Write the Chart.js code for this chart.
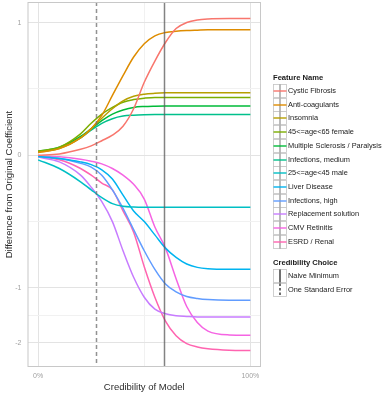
<!DOCTYPE html>
<html>
<head>
<meta charset="utf-8">
<script src="https://cdn.jsdelivr.net/npm/chart.js@4.4.1/dist/chart.umd.min.js"></script>
<style>
  body { margin: 0; background: #fff; font-family: "Liberation Sans", Arial, sans-serif; }
  #wrap { position: relative; width: 387px; height: 405px; }
  #legend { position: absolute; left: 0; top: 0; width: 387px; height: 405px; pointer-events: none; }
  .ltitle { position: absolute; left: 273px; font-size: 7.6px; font-weight: bold; color: #1a1a1a; height: 14px; line-height: 14px; white-space: nowrap; }
  .litem { position: absolute; left: 288px; font-size: 7.4px; color: #1a1a1a; height: 14px; line-height: 14px; white-space: nowrap; }
  .key { position: absolute; left: 273px; }
</style>
</head>
<body>
<div id="wrap">
  <canvas id="chart" width="387" height="405"></canvas>
  <div id="legend"></div>
</div>
<script>
// credibility of model (x) and difference from original coefficient per feature
var credibility = [0, 0.1, 0.2, 0.25, 0.3, 0.35, 0.4, 0.45, 0.5, 0.55, 0.6, 0.65, 0.7, 0.75, 0.8, 0.9, 1];

var cysticFibrosis = [0, 0.0001, 0.002, 0.005, 0.012, 0.023, 0.048, 0.123, 0.3025, 0.504, 0.7225, 0.912, 1.0, 1.04, 1.055, 1.061, 1.061];
var antiCoagulants = [0.0004, 0.0025, 0.017, 0.04, 0.09, 0.203, 0.36, 0.548, 0.706, 0.81, 0.856, 0.874, 0.884, 0.889, 0.893, 0.893, 0.893];
var insomnia = [0.0006, 0.0025, 0.017, 0.04, 0.078, 0.123, 0.168, 0.198, 0.212, 0.218, 0.221, 0.222, 0.222, 0.222, 0.222, 0.222, 0.222];
var female4565 = [0.0009, 0.0036, 0.026, 0.058, 0.096, 0.13, 0.16, 0.176, 0.185, 0.19, 0.19, 0.19, 0.19, 0.19, 0.19, 0.19, 0.19];
var msParalysis = [0.0009, 0.0036, 0.02, 0.04, 0.068, 0.096, 0.116, 0.13, 0.135, 0.137, 0.138, 0.138, 0.138, 0.138, 0.138, 0.138, 0.138];
var infectionsMedium = [0.0006, 0.003, 0.017, 0.036, 0.058, 0.076, 0.087, 0.091, 0.093, 0.094, 0.094, 0.094, 0.094, 0.094, 0.094, 0.094, 0.094];
var male2545 = [-0.0012, -0.01, -0.04, -0.068, -0.102, -0.133, -0.148, -0.152, -0.153, -0.153, -0.153, -0.153, -0.153, -0.153, -0.153, -0.153, -0.153];
var liverDisease = [-0.0001, -0.0006, -0.0025, -0.005, -0.012, -0.032, -0.09, -0.176, -0.25, -0.36, -0.49, -0.593, -0.672, -0.714, -0.731, -0.738, -0.738];
var infectionsHigh = [-0.0001, -0.0006, -0.0036, -0.008, -0.0225, -0.068, -0.16, -0.314, -0.518, -0.74, -0.941, -1.061, -1.134, -1.166, -1.184, -1.195, -1.195];
var replacementSolution = [-0.0002, -0.0025, -0.0225, -0.058, -0.1225, -0.25, -0.518, -0.846, -1.145, -1.346, -1.428, -1.464, -1.476, -1.484, -1.484, -1.484, -1.484];
var cmvRetinitis = [-0.00003, -0.00014, -0.0009, -0.002, -0.0042, -0.01, -0.0225, -0.048, -0.109, -0.292, -0.49, -0.865, -1.3, -1.588, -1.756, -1.833, -1.839];
var esrdRenal = [-0.0001, -0.0012, -0.01, -0.0225, -0.044, -0.068, -0.176, -0.336, -0.706, -1.145, -1.563, -1.85, -2.016, -2.088, -2.126, -2.158, -2.164];

var featureNames = ['Cystic Fibrosis', 'Anti-coagulants', 'Insomnia', '45<=age<65 female',
  'Multiple Sclerosis / Paralysis', 'Infections, medium', '25<=age<45 male', 'Liver Disease',
  'Infections, high', 'Replacement solution', 'CMV Retinitis', 'ESRD / Renal'];
var featureValues = [cysticFibrosis, antiCoagulants, insomnia, female4565, msParalysis, infectionsMedium,
  male2545, liverDisease, infectionsHigh, replacementSolution, cmvRetinitis, esrdRenal];
var featureColors = ['#F8766D', '#DE8C00', '#B79F00', '#7CAE00', '#00BA38', '#00C08B',
  '#00BFC4', '#00B4F0', '#619CFF', '#C77CFF', '#F564E3', '#FF64B0'];

// chosen credibility levels (vertical lines)
var choiceNames = ['Naive Minimum', 'One Standard Error'];
var choiceValues = [0.594, 0.271];

var yTicks = [-2, -1, 0, 1];
var yMinor = [-1.457, -0.25, 0.25];
var xTicks = [0, 1];
var xMinor = [0.5];

function ssqrt(v) { return v < 0 ? -Math.sqrt(-v) : Math.sqrt(v); }

// signed square-root axis, like scales::sqrt on both sides of zero
class SignedSqrtScale extends Chart.LinearScale {
  getPixelForValue(value) {
    var t0 = ssqrt(this.min), t1 = ssqrt(this.max);
    return this.getPixelForDecimal((ssqrt(value) - t0) / (t1 - t0));
  }
  getValueForPixel(pixel) {
    var t0 = ssqrt(this.min), t1 = ssqrt(this.max);
    var t = t0 + this.getDecimalForPixel(pixel) * (t1 - t0);
    return t < 0 ? -t * t : t * t;
  }
}
SignedSqrtScale.id = 'signedsqrt';
SignedSqrtScale.defaults = Chart.LinearScale.defaults;
Chart.register(SignedSqrtScale);

var datasets = featureNames.map(function (name, i) {
  return {
    label: name,
    data: credibility.map(function (x, j) { return { x: x, y: featureValues[i][j] }; }),
    borderColor: featureColors[i],
    backgroundColor: featureColors[i],
    borderWidth: 1.5,
    pointRadius: 0,
    fill: false,
    cubicInterpolationMode: 'monotone'
  };
});

var panelPlugin = {
  id: 'panel',
  afterDatasetsDraw: function (chart) {
    var ctx = chart.ctx, a = chart.chartArea, xs = chart.scales.x;
    ctx.save();
    choiceValues.forEach(function (v, i) {
      var px = Math.round(xs.getPixelForValue(v)) + 0.5;
      ctx.beginPath();
      ctx.strokeStyle = i === 0 ? 'rgba(90,90,90,0.75)' : 'rgba(110,110,110,0.75)';
      ctx.lineWidth = 1.5;
      ctx.setLineDash(i === 0 ? [] : [4, 3]);
      ctx.moveTo(px, a.top);
      ctx.lineTo(px, a.bottom);
      ctx.stroke();
    });
    ctx.setLineDash([]);
    ctx.strokeStyle = '#c8c8c8';
    ctx.lineWidth = 1;
    ctx.strokeRect(a.left + 0.5, a.top + 0.5, a.right - a.left - 1, a.bottom - a.top - 1);
    ctx.restore();
  }
};

function gridColor(minor) {
  return function (c) { return minor.indexOf(c.tick.value) >= 0 ? '#f1f1f1' : '#e3e3e3'; };
}

function noPad(s) { s.paddingTop = 0; s.paddingBottom = 0; s.paddingLeft = 0; s.paddingRight = 0; }

new Chart(document.getElementById('chart'), {
  type: 'line',
  data: { datasets: datasets },
  options: {
    responsive: false,
    animation: false,
    layout: { padding: { left: 0, top: 2, right: 126, bottom: 0 } },
    plugins: { legend: { display: false }, tooltip: { enabled: false } },
    scales: {
      x: {
        type: 'linear',
        min: -0.05,
        max: 1.05,
        afterBuildTicks: function (s) {
          s.ticks = xTicks.concat(xMinor).sort(function (a, b) { return a - b; })
            .map(function (v) { return { value: v }; });
        },
        afterFit: function (s) { s.height = 38; noPad(s); },
        ticks: {
          callback: function (v) { return xTicks.indexOf(v) >= 0 ? Math.round(v * 100) + '%' : ''; },
          color: '#a0a0a0',
          font: { family: 'Liberation Sans', size: 7 },
          padding: 5,
          maxRotation: 0
        },
        grid: { color: gridColor(xMinor), drawTicks: false },
        border: { display: false },
        title: {
          display: true,
          text: 'Credibility of Model',
          color: '#2b2b2b',
          font: { family: 'Liberation Sans', size: 9.5 },
          padding: { top: 0, bottom: 12 }
        }
      },
      y: {
        type: 'signedsqrt',
        min: -2.547,
        max: 1.334,
        afterBuildTicks: function (s) {
          s.ticks = yTicks.concat(yMinor).sort(function (a, b) { return a - b; })
            .map(function (v) { return { value: v }; });
        },
        afterFit: function (s) { s.width = 27.5; noPad(s); },
        ticks: {
          callback: function (v) { return yTicks.indexOf(v) >= 0 ? String(v) : ''; },
          color: '#a0a0a0',
          font: { family: 'Liberation Sans', size: 7 },
          padding: 6
        },
        grid: { color: gridColor(yMinor), drawTicks: false },
        border: { display: false },
        title: {
          display: true,
          text: 'Difference from Original Coefficient',
          color: '#2b2b2b',
          font: { family: 'Liberation Sans', size: 9.5 },
          padding: { top: 4, bottom: 0 }
        }
      }
    }
  },
  plugins: [panelPlugin]
});

// legend (two guides, like the original)
var legend = document.getElementById('legend');
function add(html) { legend.insertAdjacentHTML('beforeend', html); }
function esc(s) { return s.replace(/&/g, '&amp;').replace(/</g, '&lt;'); }
function keySvg(top, inner) {
  return '<svg class="key" style="top:' + top + 'px" width="14" height="14" viewBox="0 0 14 14">' +
    '<rect x="0.5" y="0.5" width="13" height="13" fill="#fff" stroke="#c4c4c4" stroke-width="0.8"/>' +
    inner + '</svg>';
}

add('<div class="ltitle" style="top:70.5px">Feature Name</div>');
featureNames.forEach(function (name, i) {
  var top = 84 + i * 13.7;
  add(keySvg(top,
    '<line x1="7" y1="0.5" x2="7" y2="13.5" stroke="rgba(90,90,90,0.75)" stroke-width="1.1"/>' +
    '<line x1="0.5" y1="7" x2="13.5" y2="7" stroke="' + featureColors[i] + '" stroke-width="1.4"/>'));
  add('<div class="litem" style="top:' + top + 'px">' + esc(name) + '</div>');
});

add('<div class="ltitle" style="top:256px">Credibility Choice</div>');
choiceNames.forEach(function (name, i) {
  var top = 269 + i * 13.7;
  var dash = i === 0 ? '' : ' stroke-dasharray="2.5,2"';
  add(keySvg(top, '<line x1="7" y1="0.5" x2="7" y2="13.5" stroke="#222" stroke-width="1.3"' + dash + '/>'));
  add('<div class="litem" style="top:' + top + 'px">' + esc(name) + '</div>');
});
</script>
</body>
</html>
